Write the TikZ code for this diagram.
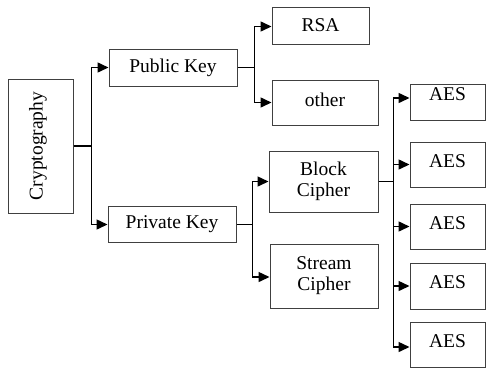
\documentclass[tikz,border=0pt]{standalone}
\usepackage{fontspec}
\setmainfont{Liberation Serif}
\usetikzlibrary{arrows.meta}
\newcommand{\lifted}[2]{\raisebox{#1}[0pt][0pt]{#2}}
\begin{document}
\begin{tikzpicture}[x=1pt,y=-1pt,
  box/.style={draw=black!75, line width=1pt, fill=white, inner sep=0pt,
    align=center, font=\fontsize{19.5}{21}\selectfont},
  arr/.style={draw=black, line width=1.5pt, -{Triangle[length=11pt,width=10pt]}}]
\useasboundingbox (0,0) rectangle (486,368);
% boxes
\node[box, minimum width=65pt, minimum height=134pt] (crypt) at (40.5,146)
  {\rotatebox{90}{Cryptography}\hspace{5pt}};
\node[box, minimum width=128pt, minimum height=37pt] (pub) at (173,67.5) {Public Key};
\node[box, minimum width=128pt, minimum height=36pt] (priv) at (172,224.5) {Private Key};
\node[box, minimum width=97pt, minimum height=37pt] (rsa) at (320.5,25.5) {RSA};
\node[box, minimum width=106pt, minimum height=45pt] (other) at (325,102.5) {\lifted{-4pt}{other}};
\node[box, minimum width=109pt, minimum height=61pt] (block) at (323.5,181.5) {Block\\Cipher};
\node[box, minimum width=108pt, minimum height=64pt] (stream) at (324,276) {Stream\\Cipher};
\node[box, minimum width=75pt, minimum height=36pt] (aes1) at (447.5,102) {\lifted{2pt}{AES}};
\node[box, minimum width=75pt, minimum height=45pt] (aes2) at (447.5,164.5) {\lifted{-3pt}{AES}};
\node[box, minimum width=75pt, minimum height=45pt] (aes3) at (447.5,226.5) {\lifted{-3pt}{AES}};
\node[box, minimum width=75pt, minimum height=46pt] (aes4) at (447.5,286) {\lifted{-2pt}{AES}};
\node[box, minimum width=75pt, minimum height=45pt] (aes5) at (447.5,344.5) {\lifted{-3pt}{AES}};
% connectors
\draw[arr] (crypt.east) -- ++(18,0) |- (pub.west);
\draw[arr] (crypt.east) -- ++(18,0) |- (priv.west);
\draw[arr] (pub.east) -- ++(17,0) |- ([yshift=-1pt]rsa.west);
\draw[arr] (pub.east) -- ++(17,0) |- (other.west);
\draw[arr] (priv.east) -- ++(16,0) |- (block.west);
\draw[arr] (priv.east) -- ++(16,0) |- ([yshift=-1pt]stream.west);
\draw[arr] (block.east) -- ++(15,0) |- ([yshift=4pt]aes1.west);
\draw[arr] (block.east) -- ++(15,0) |- (aes2.west);
\draw[arr] (block.east) -- ++(15,0) |- (aes3.west);
\draw[arr] (block.east) -- ++(15,0) |- (aes4.west);
\draw[arr] (block.east) -- ++(15,0) |- ([yshift=-2.5pt]aes5.west);
\end{tikzpicture}
\end{document}
